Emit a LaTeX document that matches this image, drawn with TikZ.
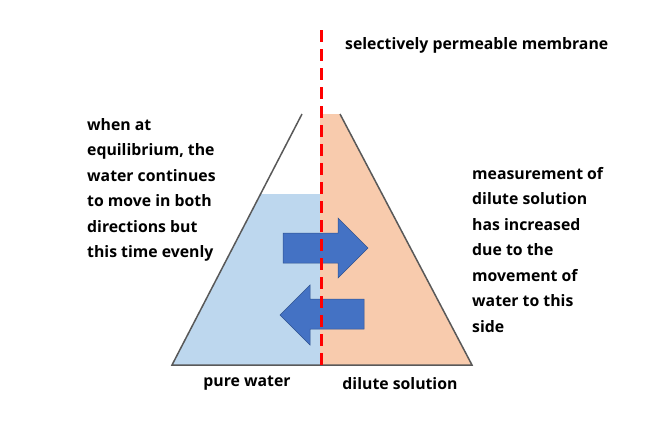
\documentclass[tikz,border=0pt]{standalone}
\usepackage{fontspec}
\setmainfont{Open Sans}
\begin{document}
\begin{tikzpicture}[x=1pt,y=-1pt,
  lbl/.style={font=\bfseries\fontsize{15.8}{25.5}\selectfont,align=left,inner sep=0pt},
  arr/.style={fill={rgb,255:red,68;green,114;blue,196},draw={rgb,255:red,47;green,82;blue,143},line width=0.5pt}]
\useasboundingbox (0,0) rectangle (658,426);
\definecolor{water}{RGB}{189,215,238}
\definecolor{peach}{RGB}{248,203,173}
% fills
\fill[water] (172,365) -- (260.6,194) -- (320,194) -- (320,365) -- cycle;
\fill[peach] (320,114) -- (340,114) -- (472,365) -- (320,365) -- cycle;
% sides
\coordinate (tl) at (302,114); \coordinate (tr) at (340,114);
\coordinate (bl) at (172,365); \coordinate (br) at (472,365);
\draw[gray!70!black,line width=1.5pt] (tl) -- (bl) -- (br) -- (tr);
% arrows
\draw[arr] (283,233) -- (338,233) -- (338,218) -- (368,248) -- (338,278) -- (338,263) -- (283,263) -- cycle;
\draw[arr] (364,299) -- (310,299) -- (310,285) -- (280,315) -- (310,345) -- (310,329) -- (364,329) -- cycle;
% membrane
\coordinate (mt) at (321,30); \coordinate (mb) at (321,366);
\draw[red,line width=3pt,dash pattern=on 12pt off 7pt] (mt) -- (mb);
% labels
\node[lbl,anchor=west] (t) at (345,45) {selectively permeable membrane};
\node[lbl,anchor=north west] (l) at (87,118) {when at\\equilibrium, the\\water continues\\to move in both\\directions but\\this time evenly};
\node[lbl,anchor=north west] (r) at (472,167) {measurement of\\dilute solution\\has increased\\due to the\\movement of\\water to this\\side};
\node[lbl] (pw) at (247,383) {pure water};
\node[lbl] (ds) at (400,384) {dilute solution};
\end{tikzpicture}
\end{document}
